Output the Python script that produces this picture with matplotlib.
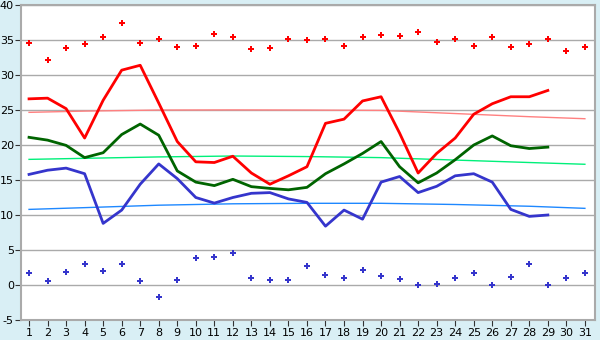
import matplotlib
matplotlib.use("Agg")
import matplotlib.pyplot as plt
import numpy as np

plt.rcParams["axes.unicode_minus"] = False

days = np.arange(1, 32)
line_days = np.arange(1, 30)

# daily highs / lows (markers)
max_temp = [34.6, 32.2, 33.8, 34.5, 35.5, 37.4, 34.6, 35.1, 34.0, 34.2,
            35.8, 35.4, 33.7, 33.8, 35.2, 35.0, 35.1, 34.1, 35.4, 35.7,
            35.6, 36.1, 34.7, 35.2, 34.1, 35.5, 34.0, 34.4, 35.1, 33.5, 34.0]
min_temp = [1.7, 0.5, 1.8, 3.0, 2.0, 3.0, 0.5, -1.75, 0.7, 3.8,
            3.95, 4.6, 0.95, 0.7, 0.7, 2.7, 1.4, 0.95, 2.1, 1.25,
            0.8, 0.0, 0.1, 0.95, 1.7, 0.0, 1.1, 2.95, 0.0, 0.95, 1.7]

# daily lines
red_vals = [26.6, 26.7, 25.2, 21.0, 26.4, 30.7, 31.4, 26.0, 20.5, 17.6,
            17.5, 18.4, 16.0, 14.4, 15.6, 16.9, 23.1, 23.7, 26.3, 26.9,
            21.7, 16.0, 18.8, 21.0, 24.4, 25.9, 26.9, 26.9, 27.8]
green_vals = [21.1, 20.7, 19.95, 18.2, 18.9, 21.5, 23.0, 21.4, 16.3, 14.7,
              14.2, 15.1, 14.05, 13.8, 13.6, 13.95, 15.9, 17.3, 18.8, 20.5,
              16.9, 14.6, 16.0, 17.9, 20.0, 21.3, 19.9, 19.5, 19.7]
blue_vals = [15.8, 16.4, 16.7, 15.9, 8.8, 10.7, 14.4, 17.3, 15.2, 12.5,
             11.7, 12.5, 13.1, 13.2, 12.3, 11.8, 8.4, 10.7, 9.4, 14.7,
             15.5, 13.2, 14.1, 15.6, 15.9, 14.7, 10.8, 9.8, 10.0]

# normals (trend curves) read at a few days
trend_days = [1, 4, 8, 12, 16, 20, 24, 28, 31]
red_trend = [24.67, 24.85, 25.0, 25.02, 25.0, 24.95, 24.5, 24.05, 23.76]
green_trend = [17.95, 18.1, 18.3, 18.43, 18.35, 18.2, 17.85, 17.5, 17.25]
blue_trend = [10.8, 11.05, 11.4, 11.6, 11.67, 11.67, 11.5, 11.25, 10.95]

y_ticks = np.arange(-5, 41, 5)

fig = plt.figure(figsize=(6, 3.4), dpi=100, facecolor="#D9EFF5")
ax = fig.add_axes([0.0345, 0.059, 0.957, 0.926])
ax.set_facecolor("white")

ax.plot(trend_days, red_trend, color="#FF8080", lw=1, zorder=2)
ax.plot(trend_days, green_trend, color="#00F07A", lw=1, zorder=2)
ax.plot(trend_days, blue_trend, color="#1E88FF", lw=1, zorder=2)

ax.plot(line_days, red_vals, color="#FF0000", lw=2, zorder=3)
ax.plot(line_days, green_vals, color="#006400", lw=2, zorder=3)
ax.plot(line_days, blue_vals, color="#3535CC", lw=2, zorder=3)

ax.plot(days, max_temp, ls="none", marker="P", ms=4.5, color="#FF0000",
        markeredgewidth=0, zorder=4)
ax.plot(days, min_temp, ls="none", marker="P", ms=4.5, color="#3535CC",
        markeredgewidth=0, zorder=4)

ax.set_xlim(0.55, 31.54)
ax.set_ylim(-5, 40)
ax.set_xticks(days)
ax.set_yticks(y_ticks)
ax.grid(axis="y", color="#AAAAAA", lw=1)
ax.set_axisbelow(True)
for s in ax.spines.values():
    s.set_color("#AAAAAA")
    s.set_linewidth(1.5)
ax.tick_params(colors="black", labelsize=8, length=4, color="#333333", pad=1.5)
ax.tick_params(axis="y", pad=1)

fig.savefig("out.png", dpi=100, facecolor=fig.get_facecolor())
